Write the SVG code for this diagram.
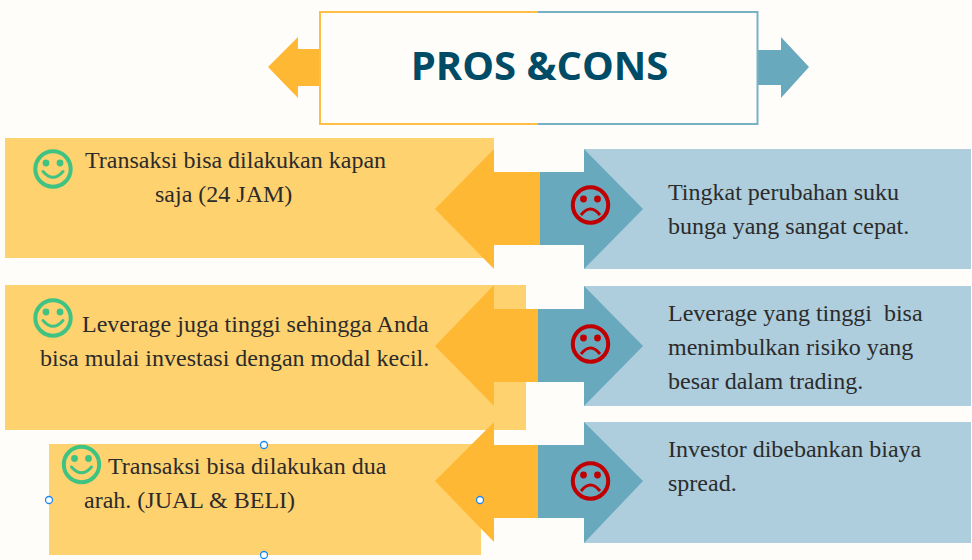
<svg xmlns="http://www.w3.org/2000/svg" width="972" height="560" viewBox="0 0 972 560">
<style>
.y{fill:#ffd270}.b{fill:#aecddd}.o{fill:#ffb833}.t{fill:#69a9bd}
.txt{font-family:"Liberation Serif","Times New Roman",serif;font-size:24px;fill:#2b2b2b;white-space:pre}
.title{font-family:"Open Sans","Noto Sans",sans-serif;font-weight:700;font-size:40px;fill:#004b66}
.h{fill:none;stroke:#3fc383;stroke-width:4}.hd{fill:#3fc383}.hm{fill:none;stroke:#3fc383;stroke-width:3;stroke-linecap:round}
.s{fill:none;stroke:#c00000;stroke-width:4}.sd{fill:#c00000}.sm{fill:none;stroke:#c00000;stroke-width:3}
.handle{fill:#fff;stroke:#1e87f0;stroke-width:1.3}
</style>
<defs>
<g id="smile"><circle class="h" r="17.7" cy="0"/><circle class="hd" cx="-7" cy="-6" r="3.4"/><circle class="hd" cx="7" cy="-6" r="3.4"/><path class="hm" d="M-10 2.500Q0 14 10 2.500"/></g>
<g id="sad"><circle class="s" r="17.7"/><circle class="sd" cx="-7" cy="-6" r="3.4"/><circle class="sd" cx="7" cy="-6" r="3.4"/><path class="sm" d="M-9.500 10Q0 -2 9.500 10"/></g>
</defs>
<rect width="972" height="560" fill="#fffdfa"/>
<g id="header">
<path class="o" d="M321 49V86H298V98L268 67L298 37V49Z"/>
<path class="t" d="M757 50V85H781V98L809 67L781 37V50Z"/>
<path fill="none" stroke="#ffbf47" stroke-width="2" d="M538 12H320V124H538"/>
<path fill="none" stroke="#78b1c4" stroke-width="2" d="M538 12H757.500V124H538"/>
<text class="title" x="539.500" y="80" text-anchor="middle">PROS &amp;CONS</text>
</g>
<g id="pro-1">
<rect class="y" x="5" y="138" width="489" height="120"/>
<use href="#smile" x="53" y="169"/>
<text class="txt" x="85" y="168">Transaksi bisa dilakukan kapan</text>
<text class="txt" x="155" y="202">saja (24 JAM)</text>
</g>
<g id="pro-2">
<rect class="y" x="5" y="285" width="521" height="145"/>
<use href="#smile" x="53" y="318"/>
<text class="txt" x="82" y="332">Leverage juga tinggi sehingga Anda</text>
<text class="txt" x="40" y="366">bisa mulai investasi dengan modal kecil.</text>
</g>
<g id="pro-3">
<rect class="y" x="49" y="444" width="432" height="111"/>
<use href="#smile" x="81.500" y="464.500"/>
<text class="txt" x="108" y="474">Transaksi bisa dilakukan dua</text>
<text class="txt" x="84" y="508">arah. (JUAL &amp; BELI)</text>
</g>
<g id="con-1">
<rect class="b" x="584" y="149" width="387" height="120"/>
<text class="txt" x="668" y="200">Tingkat perubahan suku</text>
<text class="txt" x="668" y="234">bunga yang sangat cepat.</text>
</g>
<g id="con-2">
<rect class="b" x="584" y="286" width="387" height="120"/>
<text class="txt" x="668" y="321">Leverage yang tinggi  bisa</text>
<text class="txt" x="668" y="355">menimbulkan risiko yang</text>
<text class="txt" x="668" y="389">besar dalam trading.</text>
</g>
<g id="con-3">
<rect class="b" x="584" y="422" width="387" height="121"/>
<text class="txt" x="668" y="457">Investor dibebankan biaya</text>
<text class="txt" x="668" y="491">spread.</text>
</g>
<g id="connectors">
<path class="o" d="M540 172V245H494V269L435 209L494 149V172Z"/>
<path class="t" d="M540 172H584V149L643 209L584 269V245H540Z"/>
<path class="o" d="M538 309V382H494V406L435 346L494 285V309Z"/>
<path class="t" d="M538 309H584V286L643 346L584 406V382H538Z"/>
<path class="o" d="M538 445V518H494V542L435 481L494 422V445Z"/>
<path class="t" d="M538 445H584V422L643 481L584 543V518H538Z"/>
</g>
<g id="faces">
<use href="#sad" x="590.500" y="205"/>
<use href="#sad" x="590.500" y="344"/>
<use href="#sad" x="590.500" y="481"/>
</g>
<g id="selection">
<circle class="handle" cx="264" cy="445" r="3.500"/>
<circle class="handle" cx="49" cy="500" r="3.500"/>
<circle class="handle" cx="480" cy="500" r="3.500"/>
<circle class="handle" cx="264" cy="555" r="3.500"/>
</g>
</svg>
